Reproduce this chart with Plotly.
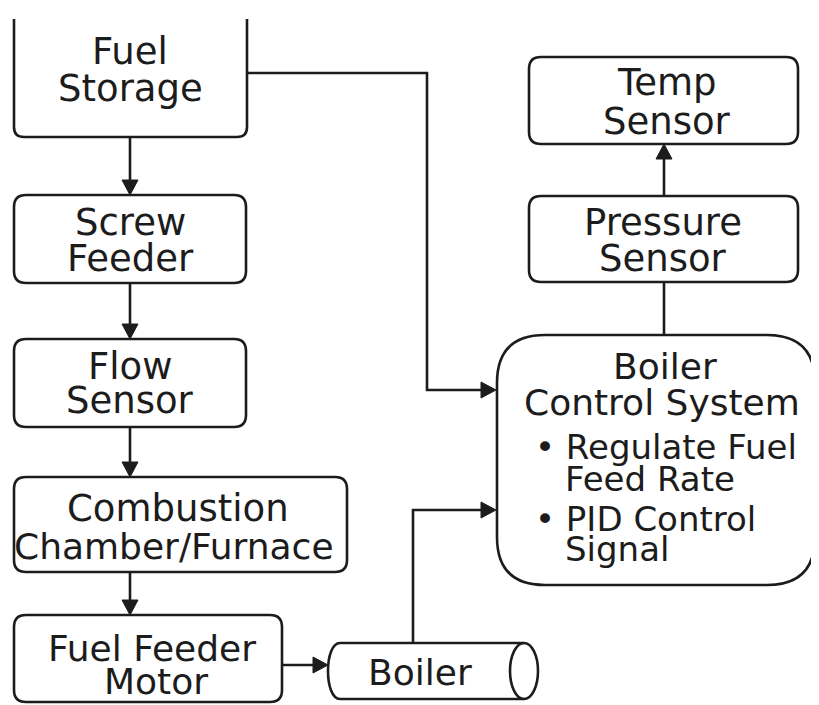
import plotly.graph_objects as go

# ---- diagram content ----
box_names = ["Fuel Storage", "Screw Feeder", "Flow Sensor", "Combustion", "Fuel Feeder Motor",
             "Temp Sensor", "Pressure Sensor", "Boiler Control System"]
box_lines = [["Fuel", "Storage"], ["Screw", "Feeder"], ["Flow", "Sensor"],
             ["Combustion", "Chamber/Furnace"], ["Fuel Feeder", "Motor"],
             ["Temp", "Sensor"], ["Pressure", "Sensor"],
             ["Boiler", "Control System", "• Regulate Fuel", "Feed Rate", "• PID Control", "Signal"]]
cyl_label = "Boiler"

# ---- geometry (pixels, y downward) ----
box_x0 = [14, 14, 14, 14, 14, 529, 529, 497]
box_x1 = [247, 246, 246, 347, 282, 798, 798, 815]
box_y0 = [19, 195, 339, 477, 615, 57, 196, 335]
box_y1 = [137, 283, 427, 572, 702, 144, 282, 585]
box_r = [10, 12, 12, 12, 12, 12, 12, 48]
open_top = [True, False, False, False, False, False, False, False]
text_x = [[130, 130], [130, 130], [130, 130], [178, 174], [152, 156], [667, 667], [663, 663],
          [665, 662, 533, 563, 533, 563]]
text_y = [[51, 88], [222, 258], [366, 400], [508, 546], [648, 681], [82, 121], [222, 258],
          [366, 402, 447, 479, 519, 549]]
text_anchor = [["center"] * 2] * 7 + [["center", "center", "left", "left", "left", "left"]]
text_size = [[37, 37], [37, 37], [37, 37], [37, 36], [36, 36], [37, 37], [37, 37],
             [36, 36, 34, 34, 34, 34]]

INK = "#1c1c1c"
LW = 2.6
FONT = "DejaVu Sans"

W, H = 819, 705
OFF = 8  # page body margin of the html page
fig = go.Figure()
shapes = []
annotations = []


def rrect(x0, y0, x1, y1, r, open_top=False):
    if open_top:
        return (f"M {x0} {y0} L {x0} {y1 - r} Q {x0} {y1} {x0 + r} {y1} "
                f"L {x1 - r} {y1} Q {x1} {y1} {x1} {y1 - r} L {x1} {y0}")
    return (f"M {x0 + r} {y0} L {x1 - r} {y0} Q {x1} {y0} {x1} {y0 + r} "
            f"L {x1} {y1 - r} Q {x1} {y1} {x1 - r} {y1} L {x0 + r} {y1} "
            f"Q {x0} {y1} {x0} {y1 - r} L {x0} {y0 + r} Q {x0} {y0} {x0 + r} {y0} Z")


for i in range(len(box_names)):
    shapes.append(dict(type="path", path=rrect(box_x0[i], box_y0[i], box_x1[i], box_y1[i], box_r[i], open_top[i]),
                       line=dict(color=INK, width=LW), fillcolor="rgba(0,0,0,0)", layer="above"))
    for j, t in enumerate(box_lines[i]):
        annotations.append(dict(x=text_x[i][j], y=text_y[i][j], text=t, showarrow=False,
                                xanchor=text_anchor[i][j], yanchor="middle",
                                font=dict(family=FONT, size=text_size[i][j], color=INK)))

# cylinder (boiler)
cx0, cx1, cy0, cy1 = 340, 524, 643, 699
shapes.append(dict(type="path",
                   path=(f"M {cx1} {cy0} L {cx0} {cy0} C {cx0 - 16} {cy0} {cx0 - 16} {cy1} {cx0} {cy1} L {cx1} {cy1}"),
                   line=dict(color=INK, width=LW), fillcolor="rgba(0,0,0,0)"))
shapes.append(dict(type="circle", x0=cx1 - 14, x1=cx1 + 14, y0=cy0, y1=cy1,
                   line=dict(color=INK, width=LW), fillcolor="rgba(0,0,0,0)"))
annotations.append(dict(x=420, y=672, text=cyl_label, showarrow=False, xanchor="center", yanchor="middle",
                        font=dict(family=FONT, size=36, color=INK)))

# connectors: polylines, flag = arrowhead at end
connectors = [
    ([(130, 137), (130, 195)], True),
    ([(130, 283), (130, 339)], True),
    ([(130, 427), (130, 477)], True),
    ([(130, 572), (130, 615)], True),
    ([(282, 665), (328, 665)], True),
    ([(413, 643), (413, 510), (496, 510)], True),
    ([(247, 73), (427, 73), (427, 390), (496, 390)], True),
    ([(664, 335), (664, 282)], False),
    ([(664, 196), (664, 144)], True),
]
AL, AW = 15, 8
for pts, arrow in connectors:
    pts = list(pts)
    if arrow:
        (xa, ya), (xb, yb) = pts[-2], pts[-1]
        dx = (xb > xa) - (xb < xa)
        dy = (yb > ya) - (yb < ya)
        bx, by = xb - dx * AL, yb - dy * AL
        px, py = -dy * AW, dx * AW
        shapes.append(dict(type="path", path=f"M {xb} {yb} L {bx + px} {by + py} L {bx - px} {by - py} Z",
                           line=dict(color=INK, width=1), fillcolor=INK))
        pts[-1] = (bx + dx * 2, by + dy * 2)
    d = "M " + " L ".join(f"{x} {y}" for x, y in pts)
    shapes.append(dict(type="path", path=d, line=dict(color=INK, width=LW), fillcolor="rgba(0,0,0,0)"))

fig.update_layout(width=W - OFF, height=H - OFF, margin=dict(l=0, r=0, t=0, b=0),
                  paper_bgcolor="white", plot_bgcolor="white",
                  xaxis=dict(range=[OFF, W], visible=False, fixedrange=True),
                  yaxis=dict(range=[H, OFF], visible=False, fixedrange=True),
                  shapes=shapes, annotations=annotations, showlegend=False)
fig.write_html("out.html")
